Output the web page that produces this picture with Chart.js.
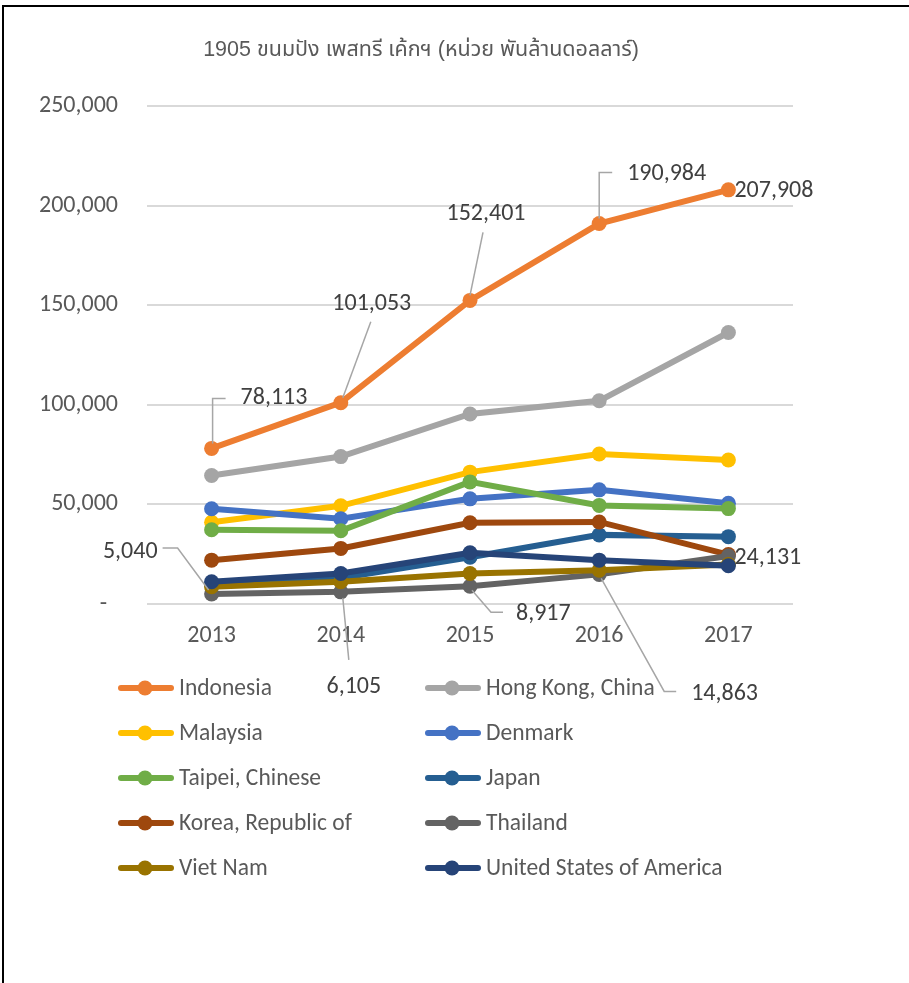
<!DOCTYPE html>
<html lang="th">
<head>
    <meta charset="UTF-8">
    <meta name="viewport" content="width=device-width, initial-scale=1.0">
    <title>1905 ขนมปัง เพสทรี เค้กฯ</title>
    <script src="https://cdn.jsdelivr.net/npm/chart.js"></script>
    <style>
        html, body { margin: 0; padding: 0; background: #fff; }
        #wrap { position: relative; width: 909px; height: 983px; overflow: hidden; }
        #frame {
            position: absolute; left: 2px; top: 5px; width: 907px; height: 978px;
            border-top: 2px solid #000; border-left: 2px solid #000; box-sizing: border-box;
        }
        canvas { position: absolute; left: 0; top: 0; }
    </style>
</head>
<body>
<div id="wrap">
    <div id="frame"></div>
    <canvas id="bakeryChart" width="909" height="983"></canvas>
</div>

<script>
    // Chart data
    const chartTitle = '1905 ขนมปัง เพสทรี เค้กฯ (หน่วย พันล้านดอลลาร์)';
    const years = ['2013', '2014', '2015', '2016', '2017'];
    const yTicks = [0, 50000, 100000, 150000, 200000, 250000];

    const seriesNames = [
        'Indonesia', 'Hong Kong, China',
        'Malaysia', 'Denmark',
        'Taipei, Chinese', 'Japan',
        'Korea, Republic of', 'Thailand',
        'Viet Nam', 'United States of America'
    ];
    const indonesia = [78113, 101053, 152401, 190984, 207908];
    const hongKong = [64500, 74000, 95400, 102000, 136300];
    const malaysia = [41000, 49300, 66200, 75300, 72300];
    const denmark = [47800, 42800, 52800, 57300, 50600];
    const taipei = [37300, 36800, 61300, 49500, 47900];
    const japan = [9800, 13000, 23500, 34700, 33800];
    const korea = [22000, 27900, 40800, 41200, 24800];
    const thailand = [5040, 6105, 8917, 14863, 24131];
    const vietNam = [8700, 11200, 15300, 17000, 19800];
    const usa = [11200, 15300, 25700, 22000, 19200];

    const seriesValues = [indonesia, hongKong, malaysia, denmark, taipei, japan, korea, thailand, vietNam, usa];
    const seriesColors = ['#ED7D31', '#A5A5A5', '#FFC000', '#4472C4', '#70AD47',
                          '#255E91', '#9E480E', '#636363', '#997300', '#264478'];

    const FONT = 'Carlito, Roboto, "Liberation Sans", sans-serif';
    const fmt = v => v.toLocaleString('en-US');

    // Data label callouts: which point, where the text sits, and the leader line (offsets from the point)
    const callouts = [
        { ds: 0, idx: 0, align: 'left',   dx: 29,  dy: -50, leader: [[1, -5], [1, -50], [14, -50]] },
        { ds: 0, idx: 1, align: 'center', dx: 31,  dy: -99, leader: [[2, -5], [30, -81]] },
        { ds: 0, idx: 2, align: 'center', dx: 16,  dy: -86, leader: [[0, -5], [13, -68]] },
        { ds: 0, idx: 3, align: 'left',   dx: 28,  dy: -50, leader: [[0, -5], [0, -51], [13, -51]] },
        { ds: 0, idx: 4, align: 'left',   dx: 6,   dy: 1 },
        { ds: 7, idx: 0, align: 'right',  dx: -54, dy: -42, leader: [[-49, -46], [-34, -46], [-3, -4]] },
        { ds: 7, idx: 1, align: 'center', dx: 13,  dy: 95,  leader: [[2, 6], [8, 68]] },
        { ds: 7, idx: 2, align: 'left',   dx: 46,  dy: 28,  leader: [[2, 4], [21, 26], [33, 26]] },
        { ds: 7, idx: 3, align: 'left',   dx: 92,  dy: 120, leader: [[2, 4], [65, 117], [77, 117]] },
        { ds: 7, idx: 4, align: 'left',   dx: 6,   dy: 2 }
    ];

    const datasets = seriesNames.map((name, i) => ({
        label: name,
        data: seriesValues[i],
        borderColor: seriesColors[i],
        backgroundColor: seriesColors[i],
        pointBackgroundColor: seriesColors[i],
        pointBorderColor: seriesColors[i],
        borderWidth: 6,
        pointRadius: 7.5,
        pointBorderWidth: 0,
        tension: 0,
        fill: false,
        order: seriesNames.length - i // later series drawn on top
    }));

    // Title, legend and callout labels drawn on the canvas
    const decorPlugin = {
        id: 'decor',
        afterDatasetsDraw(chart) {
            const ctx = chart.ctx;
            ctx.save();
            callouts.forEach(c => {
                const pt = chart.getDatasetMeta(c.ds).data[c.idx];
                const v = chart.data.datasets[c.ds].data[c.idx];
                if (c.leader) {
                    ctx.strokeStyle = '#a6a6a6';
                    ctx.lineWidth = 1.5;
                    ctx.beginPath();
                    c.leader.forEach(([dx, dy], k) => {
                        if (k === 0) ctx.moveTo(pt.x + dx, pt.y + dy);
                        else ctx.lineTo(pt.x + dx, pt.y + dy);
                    });
                    ctx.stroke();
                }
                ctx.fillStyle = '#404040';
                ctx.font = '24px ' + FONT;
                ctx.textAlign = c.align;
                ctx.textBaseline = 'middle';
                ctx.fillText(fmt(v), pt.x + c.dx, pt.y + c.dy);
            });
            ctx.restore();
        },
        afterDraw(chart) {
            const ctx = chart.ctx;
            ctx.save();
            // title
            ctx.fillStyle = '#595959';
            ctx.font = '21.5px "Liberation Sans", "Noto Sans Thai", Tahoma, sans-serif';
            ctx.textAlign = 'center';
            ctx.textBaseline = 'middle';
            ctx.fillText(chartTitle, 421, 50);

            // legend in two columns
            const colX = [118, 425];
            const rowY0 = 688, rowGap = 45;
            chart.data.datasets.forEach((ds, i) => {
                const x = colX[i % 2];
                const y = rowY0 + Math.floor(i / 2) * rowGap;
                ctx.strokeStyle = ds.borderColor;
                ctx.lineWidth = 6;
                ctx.lineCap = 'round';
                ctx.beginPath();
                ctx.moveTo(x + 3, y);
                ctx.lineTo(x + 53, y);
                ctx.stroke();
                ctx.fillStyle = ds.borderColor;
                ctx.beginPath();
                ctx.arc(x + 27, y, 7.5, 0, Math.PI * 2);
                ctx.fill();
                ctx.fillStyle = '#595959';
                ctx.font = '23.5px ' + FONT;
                ctx.textAlign = 'left';
                ctx.textBaseline = 'middle';
                ctx.fillText(ds.label, x + 61, y + 1);
            });
            ctx.restore();
        }
    };

    const ctx = document.getElementById('bakeryChart').getContext('2d');
    const bakeryChart = new Chart(ctx, {
        type: 'line',
        data: { labels: years, datasets: datasets },
        options: {
            responsive: false,
            animation: false,
            layout: { padding: { left: 30, right: 116, top: 106, bottom: 319 } },
            plugins: {
                legend: { display: false },
                tooltip: { enabled: false },
                title: { display: false }
            },
            scales: {
                x: {
                    offset: true,
                    grid: { display: false, drawTicks: false },
                    border: { display: false },
                    ticks: { color: '#595959', font: { size: 24, family: FONT }, padding: 18, maxRotation: 0 },
                    afterFit(scale) { scale.height = 60; }
                },
                y: {
                    min: 0,
                    max: 250000,
                    afterBuildTicks(scale) { scale.ticks = yTicks.map(v => ({ value: v })); },
                    grid: { color: '#d9d9d9', lineWidth: 2, drawTicks: false },
                    border: { display: false },
                    ticks: {
                        color: '#595959',
                        font: { size: 24, family: FONT },
                        padding: 29,
                        callback: v => v === 0 ? '-  ' : fmt(v)
                    },
                    afterFit(scale) { scale.width = 117; }
                }
            }
        },
        plugins: [decorPlugin]
    });
</script>
</body>
</html>
